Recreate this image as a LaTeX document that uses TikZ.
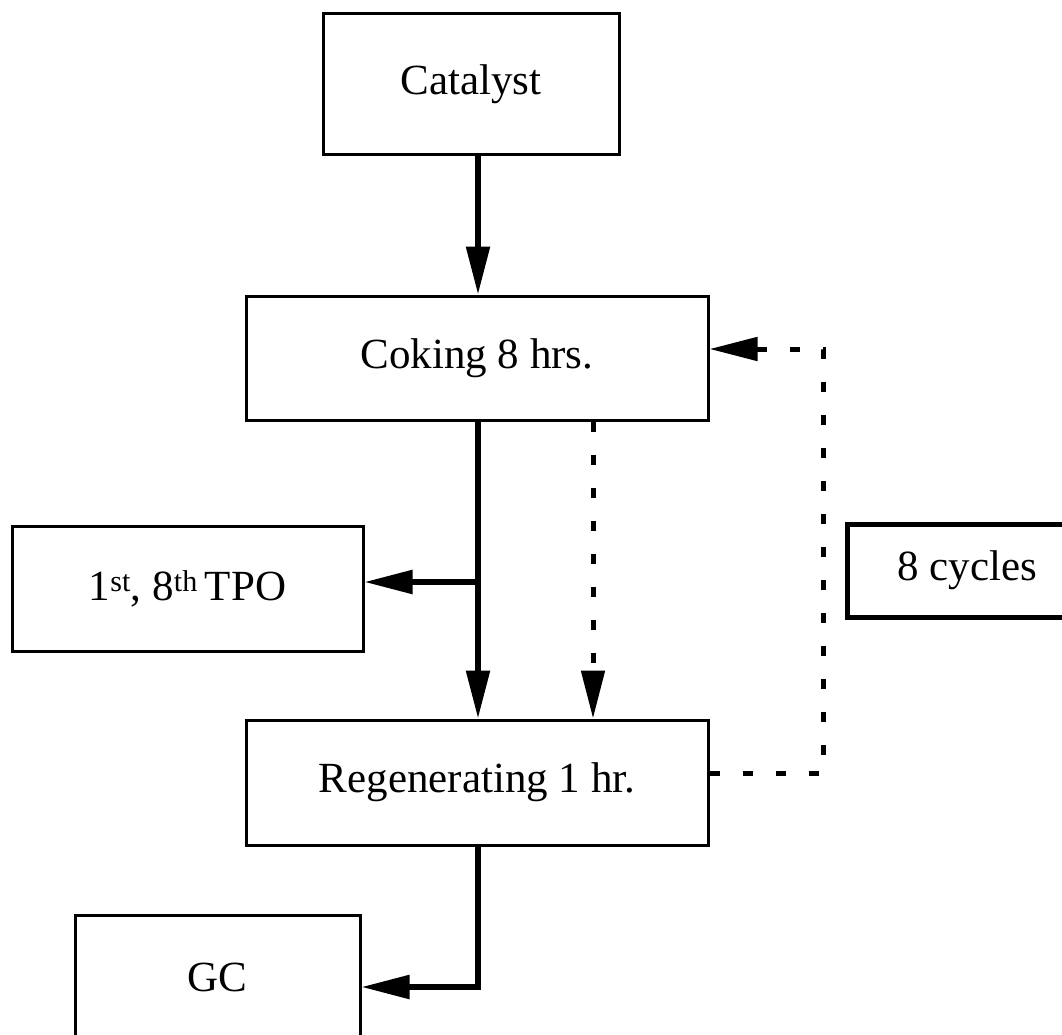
\documentclass[tikz,border=0pt]{standalone}
\usepackage{fontspec}
\setmainfont{Liberation Serif}
\usetikzlibrary{arrows.meta}
\begin{document}
\begin{tikzpicture}[x=1pt,y=-1pt,
  box/.style={draw, line width=3pt, rectangle, inner sep=0pt, fill=white,
              font=\fontsize{43}{50}\selectfont},
  flow/.style={line width=5.5pt, line join=miter, -{Triangle[length=48pt,width=23pt]}},
  dashflow/.style={flow, line width=5pt, dash pattern=on 10pt off 23pt}]
\clip (0,0) rectangle (1062,1035);
\fill[white] (0,0) rectangle (1062,1035);

\node[box, minimum width=296pt, minimum height=141pt] (catalyst) at (471,84.5) {Catalyst};
\node[box, minimum width=462pt, minimum height=124pt] (coking) at (477,358) {Coking 8 hrs.};
\node[box, minimum width=462pt, minimum height=125pt] (regen) at (477,782.5) {Regenerating 1 hr.};
\node[box, minimum width=351pt, minimum height=125pt] (tpo) at (187.5,588.5)
  {1\textsuperscript{st}, 8\textsuperscript{th}\,TPO};
\node[box, line width=5pt, minimum width=240pt, minimum height=93pt] (cycles) at (967,570.5)
  {8 cycles\hspace{14pt}};
\node[box, minimum width=285pt, minimum height=125pt] (gc) at (217.5,977.5) {GC};

\coordinate (trunk) at (478,0);
\coordinate (mid) at (593,0);
\coordinate (split) at (478,582);
\coordinate (bend) at (478,987);
\coordinate (fbtop) at (823,349);
\coordinate (fbbot) at (823,773);

\draw[flow] (catalyst.south -| trunk) -- (coking.north -| trunk);
\draw[flow] (coking.south -| trunk) -- (regen.north -| trunk);
\draw[flow] (split) -- (split -| tpo.east);
\draw[dashflow] (coking.south -| mid) -- (regen.north -| mid);
\draw[flow] (regen.south -| trunk) -- (bend) -- (bend -| gc.east);
\draw[dashflow] (fbbot -| regen.east) -- (fbbot) -- (fbtop) -- (fbtop -| coking.east);
\end{tikzpicture}
\end{document}
